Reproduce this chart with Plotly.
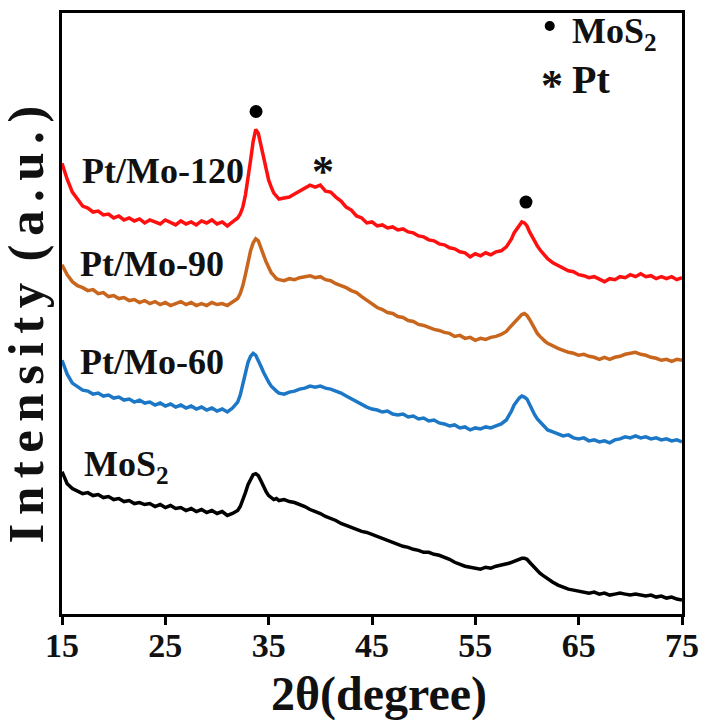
import plotly.graph_objects as go

two_theta = [15, 15.5, 16, 16.5, 17, 17.5, 18, 18.5, 19, 19.5, 20, 20.5, 21, 21.5, 22, 22.5,
             23, 23.5, 24, 24.5, 25, 25.5, 26, 26.5, 27, 27.5, 28, 28.5, 29, 29.5, 30, 30.5,
             31, 31.5, 32,
             32.25, 32.5, 32.75, 33, 33.25, 33.5, 33.75, 34, 34.25, 34.5, 34.75, 35, 35.25,
             35.5, 35.75, 36,
             36.5, 37, 37.5, 38, 38.5, 39, 39.5, 40, 40.5, 41, 41.5, 42, 42.5, 43, 43.5, 44,
             44.5, 45, 45.5, 46, 46.5, 47, 47.5, 48, 48.5, 49, 49.5, 50, 50.5, 51, 51.5, 52,
             52.5, 53, 53.5, 54, 54.5, 55, 55.5, 56, 56.5, 57, 57.5, 58,
             58.25, 58.5, 58.75, 59, 59.25, 59.5, 59.75, 60, 60.25, 60.5, 60.75, 61, 61.25,
             61.5, 61.75, 62,
             62.5, 63, 63.5, 64, 64.5, 65, 65.5, 66, 66.5, 67, 67.5, 68, 68.5, 69, 69.5, 70,
             70.5, 71, 71.5, 72, 72.5, 73, 73.5, 74, 74.5, 75]

pt_mo_120 = [442, 426, 413, 406, 399, 397, 393, 394, 390, 391, 387, 389, 385, 387, 384, 386,
             382, 385, 383, 381, 385, 382, 380, 384, 381, 383, 380, 384, 382, 385, 381, 383,
             379, 383, 387,
             391, 398, 410, 426, 445, 464, 476, 472, 460, 446, 434, 425, 418,
             412, 409, 406,
             407, 408, 411, 414, 416, 420, 418, 420, 414, 413, 408, 404, 398, 395, 389, 387,
             382, 383, 379, 380, 377, 378, 375, 376, 373, 372, 369, 368, 365, 364, 361, 360,
             357, 356, 353, 352, 348, 351, 349, 352, 350, 353, 354, 358,
             362, 366, 372, 376, 380, 383, 382, 379, 373, 368, 363, 359, 355,
             352, 349, 346,
             342, 339, 337, 334, 333, 330, 329, 327, 328, 325, 323, 326, 325, 328, 327, 330,
             328, 331, 328, 329, 326, 328, 326, 328, 325, 327]

pt_mo_90 = [340, 330, 323, 319, 317, 314, 315, 311, 312, 308, 309, 306, 307, 304, 305, 302,
            304, 301, 303, 300, 302, 299, 301, 303, 300, 302, 299, 301, 299, 302, 300, 301,
            299, 302, 306,
            311, 319, 330, 343, 354, 362, 366, 364, 358, 350, 343, 337, 332,
            329, 326, 325,
            324, 326, 325, 327, 328, 329, 327, 328, 325, 324, 321, 319, 317, 314, 312, 308,
            304, 301, 297, 295, 292, 291, 288, 287, 284, 283, 280, 279, 277, 275, 274, 272,
            271, 268, 269, 266, 267, 264, 266, 265, 267, 268, 270, 273,
            276, 279, 282, 285, 288, 290, 291, 289, 285, 280, 275, 271, 268,
            265, 263, 261,
            258, 256, 254, 252, 251, 249, 250, 248, 247, 245, 247, 245, 247, 248, 250, 251,
            252, 250, 249, 247, 246, 244, 245, 243, 245, 244]

pt_mo_60 = [244, 230, 221, 217, 214, 213, 210, 211, 208, 209, 206, 207, 204, 205, 202, 204,
            201, 202, 199, 201, 198, 200, 197, 199, 196, 198, 195, 197, 194, 196, 193, 195,
            192, 196, 202,
            209, 220, 232, 242, 248, 251, 249, 244, 238, 232, 226, 222, 218,
            215, 213, 211,
            210, 212, 213, 215, 216, 218, 217, 218, 216, 215, 213, 211, 208, 205, 202, 199,
            197, 195, 194, 192, 193, 190, 189, 190, 187, 188, 185, 186, 183, 184, 181, 180,
            178, 179, 176, 177, 174, 176, 175, 177, 176, 178, 180, 184,
            188, 193, 199, 203, 206, 208, 207, 205, 199, 194, 189, 185, 182,
            179, 176, 174,
            172, 170, 168, 169, 166, 165, 166, 163, 164, 162, 163, 161, 164, 165, 167, 166,
            168, 166, 167, 165, 166, 164, 165, 163, 164, 162]

mos2 = [132, 120, 115, 112, 110, 111, 108, 109, 106, 107, 104, 105, 102, 103, 100, 101,
        99, 100, 97, 99, 96, 98, 95, 96, 93, 95, 92, 94, 91, 93, 90, 92,
        88, 90, 93,
        97, 103, 111, 119, 125, 129, 130, 128, 123, 117, 112, 108, 106,
        104, 105, 103,
        104, 102, 101, 99, 97, 94, 92, 90, 87, 85, 83, 80, 78, 76, 74, 72,
        71, 69, 67, 65, 63, 61, 59, 57, 56, 54, 53, 51, 51, 49, 48, 46,
        44, 41, 39, 37, 36, 35, 34, 36, 35, 37, 38, 39,
        40, 41, 42, 43, 44, 45, 45, 44, 41, 38, 35, 32, 30,
        28, 26, 24,
        21, 18, 16, 14, 13, 12, 11, 10, 11, 9, 10, 8, 9, 10, 9, 8,
        9, 8, 7, 8, 6, 7, 5, 6, 4, 3]

series_names = ["Pt/Mo-120", "Pt/Mo-90", "Pt/Mo-60", "MoS<sub>2</sub>"]
series_values = [pt_mo_120, pt_mo_90, pt_mo_60, mos2]
series_colors = ["#FF1010", "#C8661E", "#1C78C6", "#000000"]
label_x = [16.75, 16.55, 16.55, 16.9]
label_y = [434, 341, 242, 137]

x_ticks = [15, 25, 35, 45, 55, 65, 75]

# peak markers
mos2_peak_x = [33.78, 59.9]
mos2_peak_y = [494, 403]
pt_peak_x = [40.27]
pt_peak_y = [434]

FONT = "Liberation Serif"

fig = go.Figure()
for name, vals, col in zip(series_names, series_values, series_colors):
    fig.add_trace(go.Scatter(x=two_theta, y=vals, mode="lines", name=name,
                             line=dict(color=col, width=3.5), showlegend=False))

fig.add_trace(go.Scatter(x=mos2_peak_x, y=mos2_peak_y, mode="markers",
                         marker=dict(color="black", size=13), showlegend=False))
# legend dot
fig.add_trace(go.Scatter(x=[62.2], y=[580], mode="markers",
                         marker=dict(color="black", size=10), showlegend=False))

for name, lx, ly in zip(series_names, label_x, label_y):
    fig.add_annotation(x=lx, y=ly, text="<b>" + name + "</b>", showarrow=False,
                       xanchor="left", yanchor="middle",
                       font=dict(family=FONT, size=36, color="#111111"))

for px, py in zip(pt_peak_x, pt_peak_y):
    fig.add_annotation(x=px, y=py, text="<b>*</b>", showarrow=False,
                       xanchor="center", yanchor="middle",
                       font=dict(family=FONT, size=44, color="#111111"))

# legend text
fig.add_annotation(x=64.2, y=572, text="<b>MoS<sub>2</sub></b>", showarrow=False,
                   xanchor="left", yanchor="middle",
                   font=dict(family=FONT, size=36, color="#111111"))
fig.add_annotation(x=62.4, y=520, text="<b>*</b>", showarrow=False,
                   xanchor="center", yanchor="middle",
                   font=dict(family=FONT, size=44, color="#111111"))
fig.add_annotation(x=64.2, y=526, text="<b>Pt</b>", showarrow=False,
                   xanchor="left", yanchor="middle",
                   font=dict(family=FONT, size=40, color="#111111"))

# axis titles (page has an 8px body margin; figure coords = page coords - 8)
TS = "\u2006"
y_title = TS.join(list("Intensity")) + TS + " " + TS.join(list("(a.u.)"))
fig.add_annotation(xref="paper", yref="paper", x=(26 - 62) / 620, y=(613 - 322) / 604,
                   text="<b>" + y_title + "</b>", textangle=-90, showarrow=False,
                   xanchor="center", yanchor="middle",
                   font=dict(family=FONT, size=51, color="#111111"))
fig.add_annotation(xref="paper", yref="paper", x=(379 - 62) / 620, y=-(693 - 613) / 604,
                   text="<b>2θ(degree)</b>", showarrow=False,
                   xanchor="center", yanchor="middle",
                   font=dict(family=FONT, size=48, color="#111111"))

fig.update_layout(
    width=700, height=712,
    margin=dict(l=54, r=26, t=2, b=106),
    paper_bgcolor="white", plot_bgcolor="white",
    xaxis=dict(range=[15, 75], tickvals=x_ticks,
               ticktext=["<b>" + str(t) + "</b>" for t in x_ticks],
               ticks="outside", ticklen=8, tickwidth=3, tickcolor="black",
               ticklabelstandoff=-9,
               showline=True, linewidth=3, linecolor="black", mirror=True,
               showgrid=False, zeroline=False,
               tickfont=dict(family=FONT, size=34, color="#111111")),
    yaxis=dict(range=[-11, 593], showticklabels=False, ticks="",
               showline=True, linewidth=3, linecolor="black", mirror=True,
               showgrid=False, zeroline=False),
)

fig.write_html("out.html")
